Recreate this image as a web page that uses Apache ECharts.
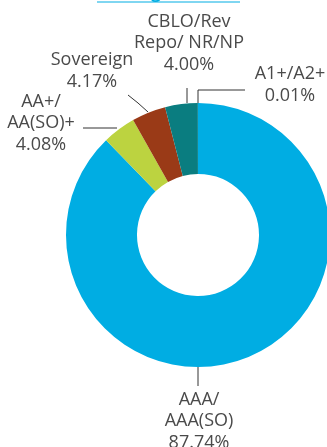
<!DOCTYPE html>
<html>
<head>
<meta charset="utf-8">
<script src="https://cdn.jsdelivr.net/npm/echarts@6/dist/echarts.min.js"></script>
<style>
html,body{margin:0;padding:0;background:#fff;}
#c{width:327px;height:447px;}
</style>
</head>
<body>
<div id="c"></div>
<script>
// Data
var categories = ['AAA/\nAAA(SO)', 'AA+/\nAA(SO)+', 'Sovereign', 'CBLO/Rev\nRepo/ NR/NP', 'A1+/A2+'];
var values = [87.74, 4.08, 4.17, 4.00, 0.01];
var colors = ['#00ADE3', '#BCD340', '#9A3A17', '#0A7D80', '#7FCFEA'];

// Label layout (label centre and leader line points), by category index
var labelPos = [
  {x: 199, y: 421, line: [[198, 366], [198, 376], [198, 386]]},
  {x: 41, y: 123, line: [[117, 128], [100, 128], [83, 128]]},
  {x: 92, y: 71, line: [[148, 112], [138, 103], [128, 95]]},
  {x: 189, y: 43, line: [[187, 103], [187, 95], [187, 88]]},
  {x: 290, y: 85, line: [[198, 103], [198, 90], [245, 90]]}
];

var chart = echarts.init(document.getElementById('c'), null, {renderer: 'canvas'});
var data = categories.map(function (c, i) {
  return {name: c, value: values[i], itemStyle: {color: colors[i]}};
});
chart.setOption({
  animation: false,
  graphic: [
    {type: 'text', left: 'center', top: -15, style: {text: 'Rating Profile', fill: '#00ADE3', font: 'bold 17px "Open Sans"'}},
    {type: 'line', shape: {x1: 97, y1: 2, x2: 240, y2: 2}, style: {stroke: '#00ADE3', lineWidth: 1}}
  ],
  series: [{
    type: 'pie',
    center: [198, 235],
    radius: [61, 132],
    startAngle: 90,
    clockwise: true,
    avoidLabelOverlap: false,
    data: data,
    label: {
      show: true,
      position: 'outside',
      formatter: function (p) { return p.name + '\n' + p.value.toFixed(2) + '%'; },
      fontFamily: 'Open Sans',
      fontSize: 18,
      lineHeight: 21.5,
      color: '#4a4a4a',
      align: 'center'
    },
    labelLine: {show: true, lineStyle: {color: '#333', width: 1}},
    labelLayout: function (p) {
      var L = labelPos[p.dataIndex];
      return {
        x: L.x,
        y: L.y,
        align: 'center',
        verticalAlign: 'middle',
        labelLinePoints: L.line
      };
    },
    emphasis: {disabled: true}
  }]
});
</script>
</body>
</html>
